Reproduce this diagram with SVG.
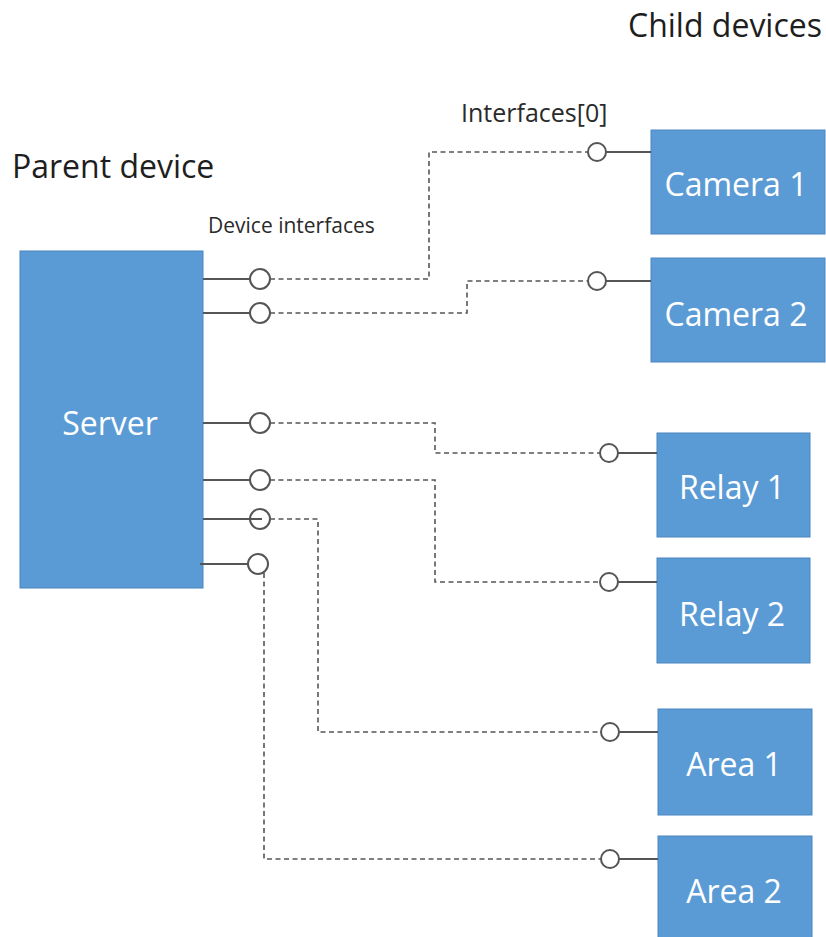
<svg xmlns="http://www.w3.org/2000/svg" width="826" height="937" viewBox="0 0 826 937">
<style>
.box{fill:#5b9bd5;stroke:#4a86bf;stroke-width:1}
.lbl{font-family:"Open Sans","Noto Sans",sans-serif;font-size:32px;fill:#ffffff;text-anchor:middle}
.title{font-family:"Open Sans","Noto Sans",sans-serif;font-size:32px;fill:#1e1e1e}
.small{font-family:"Open Sans","Noto Sans",sans-serif;fill:#2a2a2a}
.stub{stroke:#555555;stroke-width:2;fill:none}
.port{fill:#ffffff;stroke:#555555;stroke-width:2}
.dash{stroke:#555555;stroke-width:1.6;fill:none;stroke-dasharray:5,3.5}
</style>
<rect width="826" height="937" fill="#ffffff"/>
<text class="title" x="628" y="37">Child devices</text>
<text class="title" x="12" y="178">Parent device</text>
<text class="small" x="208" y="233" font-size="21">Device interfaces</text>
<text class="small" x="461" y="122" font-size="25">Interfaces[0]</text>

<g id="connectors">
<path class="dash" d="M270,279 H429 V152 H588"/>
<path class="dash" d="M270,313 H467 V281 H588"/>
<path class="dash" d="M270,423 H435 V453 H600"/>
<path class="dash" d="M270,480 H435 V582 H600"/>
<path class="dash" d="M270,519 H318 V732 H601"/>
<path class="dash" d="M264,573 V859 H601"/>
</g>

<g id="server">
<rect class="box" x="20" y="251" width="183" height="337"/>
<text class="lbl" x="110" y="435">Server</text>
<line class="stub" x1="203" y1="279" x2="250" y2="279"/>
<circle class="port" cx="260" cy="279" r="10"/>
<line class="stub" x1="203" y1="313" x2="250" y2="313"/>
<circle class="port" cx="260" cy="313" r="10"/>
<line class="stub" x1="203" y1="423" x2="250" y2="423"/>
<circle class="port" cx="260" cy="423" r="10"/>
<line class="stub" x1="203" y1="480" x2="250" y2="480"/>
<circle class="port" cx="260" cy="480" r="10"/>
<circle class="port" cx="260" cy="519" r="10"/>
<line class="stub" x1="203" y1="519" x2="262" y2="519"/>
<line class="stub" x1="200" y1="564" x2="248" y2="564"/>
<circle class="port" cx="258" cy="564" r="10"/>
</g>

<g id="camera1">
<rect class="box" x="651" y="130" width="174" height="104"/>
<text class="lbl" x="736" y="196">Camera 1</text>
<line class="stub" x1="606" y1="152" x2="651" y2="152"/>
<circle class="port" cx="597" cy="152" r="9"/>
</g>
<g id="camera2">
<rect class="box" x="651" y="258" width="174" height="104"/>
<text class="lbl" x="736" y="326">Camera 2</text>
<line class="stub" x1="606" y1="281" x2="651" y2="281"/>
<circle class="port" cx="597" cy="281" r="9"/>
</g>
<g id="relay1">
<rect class="box" x="657" y="433" width="153" height="104"/>
<text class="lbl" x="732" y="499">Relay 1</text>
<line class="stub" x1="618" y1="453" x2="657" y2="453"/>
<circle class="port" cx="609" cy="453" r="9"/>
</g>
<g id="relay2">
<rect class="box" x="657" y="558" width="153" height="105"/>
<text class="lbl" x="732" y="626">Relay 2</text>
<line class="stub" x1="618" y1="582" x2="657" y2="582"/>
<circle class="port" cx="609" cy="582" r="9"/>
</g>
<g id="area1">
<rect class="box" x="658" y="709" width="154" height="106"/>
<text class="lbl" x="734" y="776">Area 1</text>
<line class="stub" x1="619" y1="732" x2="658" y2="732"/>
<circle class="port" cx="610" cy="732" r="9"/>
</g>
<g id="area2">
<rect class="box" x="658" y="836" width="154" height="106"/>
<text class="lbl" x="734" y="903">Area 2</text>
<line class="stub" x1="619" y1="859" x2="658" y2="859"/>
<circle class="port" cx="610" cy="859" r="9"/>
</g>
</svg>
